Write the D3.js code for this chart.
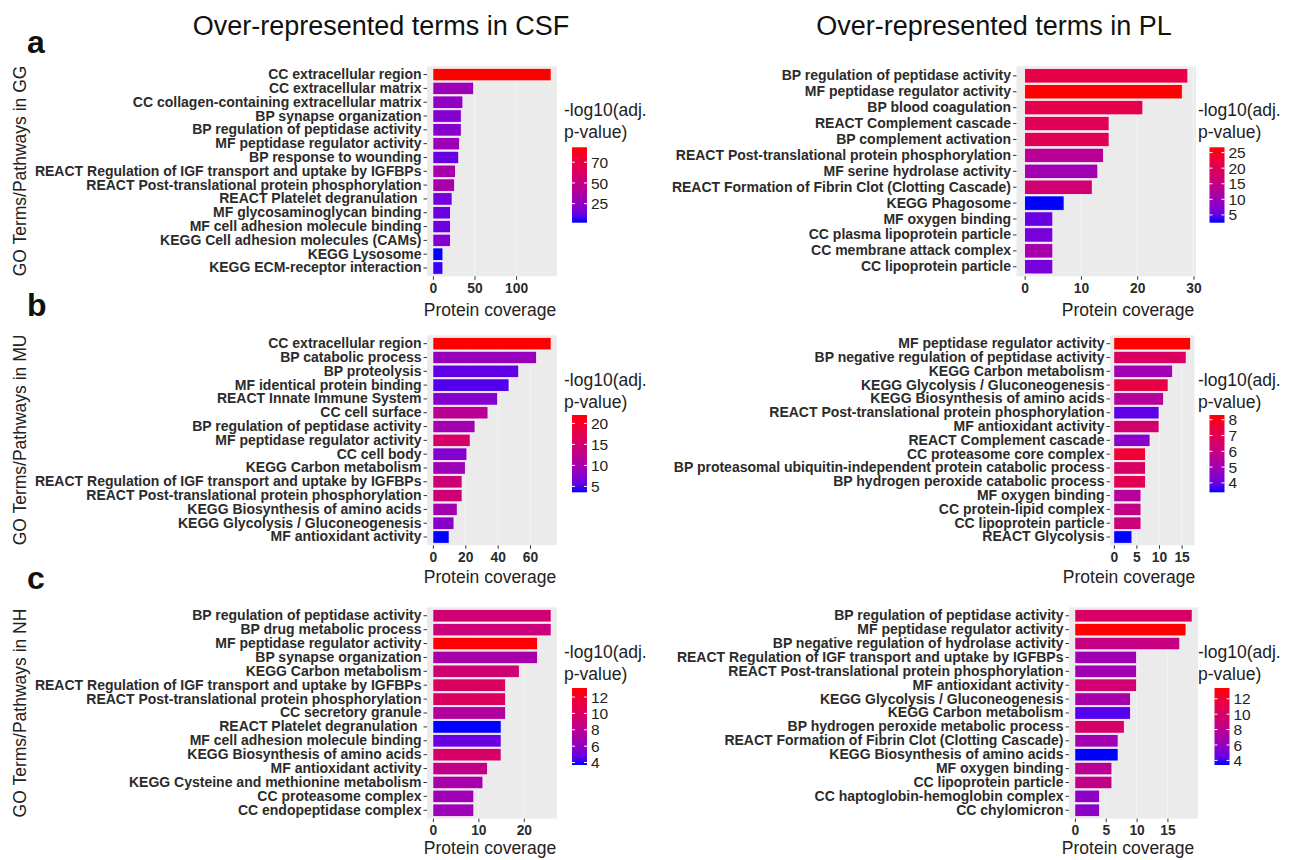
<!DOCTYPE html>
<html><head><meta charset="utf-8">
<script src="https://cdn.jsdelivr.net/npm/d3@7"></script>
<style>
body{margin:0;background:#fff;}
svg{display:block;font-family:"Liberation Sans",Arial,sans-serif;}
</style></head><body>
<svg id="chart" width="1295" height="860"></svg>
<script>
// ---------- DATA ----------
const columnTitles = ["Over-represented terms in CSF", "Over-represented terms in PL"];
const rowLetters = ["a", "b", "c"];
const rowAxisTitles = ["GO Terms/Pathways in GG", "GO Terms/Pathways in MU", "GO Terms/Pathways in NH"];
const xAxisTitle = "Protein coverage";
const legendTitleLines = ["-log10(adj.", "p-value)"];

// GG - CSF
const ggCsfTerms = ["CC extracellular region","CC extracellular matrix","CC collagen-containing extracellular matrix","BP synapse organization","BP regulation of peptidase activity","MF peptidase regulator activity","BP response to wounding","REACT Regulation of IGF transport and uptake by IGFBPs","REACT Post-translational protein phosphorylation","REACT Platelet degranulation ","MF glycosaminoglycan binding","MF cell adhesion molecule binding","KEGG Cell adhesion molecules (CAMs)","KEGG Lysosome","KEGG ECM-receptor interaction"];
const ggCsfCoverage = [142, 49, 36, 34, 34, 32, 31, 27, 26, 23, 21, 21, 21, 12, 12];
const ggCsfLogP = [93, 29, 25, 20, 21, 29, 13, 34, 34, 16, 14, 14, 20, 2, 5];
const ggCsfXTicks = [0, 50, 100];
const ggCsfLegendTicks = [25, 50, 75];
const ggCsfLegendLabels = ["25", "50", "70"];

// GG - PL
const ggPlTerms = ["BP regulation of peptidase activity","MF peptidase regulator activity","BP blood coagulation","REACT Complement cascade","BP complement activation","REACT Post-translational protein phosphorylation","MF serine hydrolase activity","REACT Formation of Fibrin Clot (Clotting Cascade)","KEGG Phagosome","MF oxygen binding","CC plasma lipoprotein particle","CC membrane attack complex","CC lipoprotein particle"];
const ggPlCoverage = [29, 28, 21, 15, 15, 14, 13, 12, 7, 5, 5, 5, 5];
const ggPlLogP = [21.4, 26.7, 21, 20, 20, 13.4, 10.2, 17, 2.5, 5.4, 6.4, 11, 6.4];
const ggPlXTicks = [0, 10, 20, 30];
const ggPlLegendTicks = [5, 10, 15, 20, 25];
const ggPlLegendLabels = ["5", "10", "15", "20", "25"];

// MU - CSF
const muCsfTerms = ["CC extracellular region","BP catabolic process","BP proteolysis","MF identical protein binding","REACT Innate Immune System","CC cell surface","BP regulation of peptidase activity","MF peptidase regulator activity","CC cell body","KEGG Carbon metabolism","REACT Regulation of IGF transport and uptake by IGFBPs","REACT Post-translational protein phosphorylation","KEGG Biosynthesis of amino acids","KEGG Glycolysis / Gluconeogenesis","MF antioxidant activity"];
const muCsfCoverage = [73, 64, 53, 47, 40, 34, 26, 23, 21, 20, 18, 18, 15, 13, 10];
const muCsfLogP = [22, 8.6, 5.4, 4.9, 7.3, 11.9, 9.7, 15.6, 7.3, 9.1, 14.3, 14.3, 9.7, 7.8, 3.6];
const muCsfXTicks = [0, 20, 40, 60];
const muCsfLegendTicks = [5, 10, 15, 20];
const muCsfLegendLabels = ["5", "10", "15", "20"];

// MU - PL
const muPlTerms = ["MF peptidase regulator activity","BP negative regulation of peptidase activity","KEGG Carbon metabolism","KEGG Glycolysis / Gluconeogenesis","KEGG Biosynthesis of amino acids","REACT Post-translational protein phosphorylation","MF antioxidant activity","REACT Complement cascade","CC proteasome core complex","BP proteasomal ubiquitin-independent protein catabolic process","BP hydrogen peroxide catabolic process","MF oxygen binding","CC protein-lipid complex","CC lipoprotein particle","REACT Glycolysis"];
const muPlCoverage = [17, 16, 13, 12, 11, 10, 10, 8, 7, 7, 7, 6, 6, 6, 4];
const muPlLogP = [8.3, 6.7, 5.0, 7.3, 5.5, 3.9, 6.4, 4.5, 7.6, 6.6, 7.0, 5.5, 5.9, 6.2, 3.4];
const muPlXTicks = [0, 5, 10, 15];
const muPlLegendTicks = [4, 5, 6, 7, 8];
const muPlLegendLabels = ["4", "5", "6", "7", "8"];

// NH - CSF
const nhCsfTerms = ["BP regulation of peptidase activity","BP drug metabolic process","MF peptidase regulator activity","BP synapse organization","KEGG Carbon metabolism","REACT Regulation of IGF transport and uptake by IGFBPs","REACT Post-translational protein phosphorylation","CC secretory granule","REACT Platelet degranulation ","MF cell adhesion molecule binding","KEGG Biosynthesis of amino acids","MF antioxidant activity","KEGG Cysteine and methionine metabolism","CC proteasome complex","CC endopeptidase complex"];
const nhCsfCoverage = [26, 26, 23, 23, 19, 16, 16, 16, 15, 15, 15, 12, 11, 9, 9];
const nhCsfLogP = [9.3, 9.0, 13.1, 7.0, 9.3, 10.1, 10.1, 7.5, 3.7, 4.8, 9.8, 8.4, 7.0, 6.6, 6.5];
const nhCsfXTicks = [0, 10, 20];
const nhCsfLegendTicks = [4, 6, 8, 10, 12];
const nhCsfLegendLabels = ["4", "6", "8", "10", "12"];

// NH - PL
const nhPlTerms = ["BP regulation of peptidase activity","MF peptidase regulator activity","BP negative regulation of hydrolase activity","REACT Regulation of IGF transport and uptake by IGFBPs","REACT Post-translational protein phosphorylation","MF antioxidant activity","KEGG Glycolysis / Gluconeogenesis","KEGG Carbon metabolism","BP hydrogen peroxide metabolic process","REACT Formation of Fibrin Clot (Clotting Cascade)","KEGG Biosynthesis of amino acids","MF oxygen binding","CC lipoprotein particle","CC haptoglobin-hemoglobin complex","CC chylomicron"];
const nhPlCoverage = [19, 18, 17, 10, 10, 10, 9, 9, 8, 7, 7, 6, 6, 4, 4];
const nhPlLogP = [10, 13.4, 8.7, 6.6, 6.6, 9.4, 6.9, 4.2, 9.8, 6.6, 3.4, 7.9, 8.4, 5.7, 5.7];
const nhPlXTicks = [0, 5, 10, 15];
const nhPlLegendTicks = [4, 6, 8, 10, 12];
const nhPlLegendLabels = ["4", "6", "8", "10", "12"];

// ---------- LAYOUT ----------
const rowsLayout = [
  {T: 66.3, B: 276.3, xTitleBase: 316, legT1: 116, legT2: 138, barY: 147.3, barH: 75.4, letterBase: 53, axisTitleCY: 171},
  {T: 335.4, B: 545.3, xTitleBase: 583, legT1: 386, legT2: 408, barY: 415, barH: 77.3, letterBase: 316, axisTitleCY: 440},
  {T: 607.4, B: 818.6, xTitleBase: 854, legT1: 658, legT2: 680, barY: 688, barH: 77, letterBase: 589, axisTitleCY: 713}
];
const colsLayout = [
  [{L: 427, R: 557, legX: 564, barX: 572, xTitleCX: 490}, {L: 427, R: 557, legX: 564, barX: 572, xTitleCX: 490}, {L: 427, R: 557, legX: 564, barX: 572, xTitleCX: 490}],
  [{L: 1016.5, R: 1196, legX: 1198, barX: 1209.5, xTitleCX: 1128}, {L: 1110, R: 1194.5, legX: 1198, barX: 1209.5, xTitleCX: 1129}, {L: 1069, R: 1198, legX: 1198, barX: 1214.5, xTitleCX: 1128}]
];

const panels = [
  {row: 0, col: 0, terms: ggCsfTerms, cov: ggCsfCoverage, logp: ggCsfLogP, xTicks: ggCsfXTicks, lt: ggCsfLegendTicks, ll: ggCsfLegendLabels},
  {row: 0, col: 1, terms: ggPlTerms, cov: ggPlCoverage, logp: ggPlLogP, xTicks: ggPlXTicks, lt: ggPlLegendTicks, ll: ggPlLegendLabels},
  {row: 1, col: 0, terms: muCsfTerms, cov: muCsfCoverage, logp: muCsfLogP, xTicks: muCsfXTicks, lt: muCsfLegendTicks, ll: muCsfLegendLabels},
  {row: 1, col: 1, terms: muPlTerms, cov: muPlCoverage, logp: muPlLogP, xTicks: muPlXTicks, lt: muPlLegendTicks, ll: muPlLegendLabels},
  {row: 2, col: 0, terms: nhCsfTerms, cov: nhCsfCoverage, logp: nhCsfLogP, xTicks: nhCsfXTicks, lt: nhCsfLegendTicks, ll: nhCsfLegendLabels},
  {row: 2, col: 1, terms: nhPlTerms, cov: nhPlCoverage, logp: nhPlLogP, xTicks: nhPlXTicks, lt: nhPlLegendTicks, ll: nhPlLegendLabels}
];

const svg = d3.select("#chart");
const defs = svg.append("defs");
const interp = d3.interpolateLab("blue", "red");
const TXT = "#2b2b2b";
const FONT = '"Liberation Sans", Arial, sans-serif';

// Column titles
const titleCX = [381, 994];
columnTitles.forEach((t, i) => {
  svg.append("text").attr("x", titleCX[i]).attr("y", 35)
    .attr("text-anchor", "middle").attr("font-size", "27px").attr("fill", "#111").text(t);
});

// Row letters and axis titles
rowsLayout.forEach((r, i) => {
  svg.append("text").attr("x", 27).attr("y", r.letterBase)
    .attr("font-size", "32px").attr("font-weight", "bold").attr("fill", "#111").text(rowLetters[i]);
  svg.append("text").attr("transform", `translate(26,${r.axisTitleCY}) rotate(-90)`)
    .attr("text-anchor", "middle").attr("font-size", "17.5px").attr("fill", "#222").text(rowAxisTitles[i]);
});

panels.forEach((p, pi) => {
  const r = rowsLayout[p.row];
  const c = colsLayout[p.col][p.row];
  const maxV = d3.max(p.cov);
  const x = d3.scaleLinear().domain([-0.05 * maxV, 1.05 * maxV]).range([c.L, c.R]);
  const y = d3.scaleBand().domain(p.terms).range([r.T, r.B]).paddingInner(0.1).paddingOuter(0.15);
  const ext = d3.extent(p.logp);
  const color = d3.scaleSequential(interp).domain(ext);

  const g = svg.append("g");
  g.append("rect").attr("x", c.L).attr("y", r.T).attr("width", c.R - c.L).attr("height", r.B - r.T).attr("fill", "#EBEBEB");
  g.selectAll(".grid").data(p.xTicks).join("line")
    .attr("x1", d => x(d)).attr("x2", d => x(d)).attr("y1", r.T).attr("y2", r.B)
    .attr("stroke", "#F4F4F4").attr("stroke-width", 1);
  g.selectAll(".bar").data(p.terms.map((t, i) => ({t, v: p.cov[i], c: p.logp[i]}))).join("rect")
    .attr("x", x(0)).attr("y", d => y(d.t)).attr("width", d => x(d.v) - x(0)).attr("height", y.bandwidth())
    .attr("fill", d => color(d.c)).attr("stroke", "#ffffff").attr("stroke-width", 0.7);

  const ya = svg.append("g").attr("transform", `translate(${c.L},0)`)
    .call(d3.axisLeft(y).tickSize(3.5).tickPadding(2));
  ya.select(".domain").remove();
  ya.selectAll(".tick line").attr("stroke", "#333");
  ya.selectAll(".tick text").attr("font-size", "14px").attr("font-weight", "bold").attr("fill", TXT)
    .attr("font-family", FONT).style("white-space", "pre");

  const xa = svg.append("g").attr("transform", `translate(0,${r.B})`)
    .call(d3.axisBottom(x).tickValues(p.xTicks).tickSize(3.5).tickPadding(3.5).tickFormat(d3.format("d")));
  xa.select(".domain").remove();
  xa.selectAll(".tick line").attr("stroke", "#333");
  xa.selectAll(".tick text").attr("font-size", "13.8px").attr("font-weight", "bold").attr("fill", TXT)
    .attr("font-family", FONT);

  svg.append("text").attr("x", c.xTitleCX).attr("y", r.xTitleBase).attr("text-anchor", "middle")
    .attr("font-size", "17.5px").attr("fill", "#222").text(xAxisTitle);

  legendTitleLines.forEach((t, i) => {
    svg.append("text").attr("x", c.legX).attr("y", i === 0 ? r.legT1 : r.legT2)
      .attr("font-size", "17.5px").attr("fill", "#222").text(t);
  });

  const gid = "grad" + pi;
  const grad = defs.append("linearGradient").attr("id", gid).attr("x1", 0).attr("y1", 1).attr("x2", 0).attr("y2", 0);
  d3.range(0, 11).forEach(i => {
    grad.append("stop").attr("offset", (i * 10) + "%").attr("stop-color", interp(i / 10));
  });
  const bw = 15;
  svg.append("rect").attr("x", c.barX).attr("y", r.barY).attr("width", bw).attr("height", r.barH)
    .attr("fill", `url(#${gid})`);
  const ly = d3.scaleLinear().domain(ext).range([r.barY + r.barH, r.barY]);
  const lg = svg.append("g");
  p.lt.forEach((v, i) => {
    const yy = ly(v);
    lg.append("line").attr("x1", c.barX).attr("x2", c.barX + 3).attr("y1", yy).attr("y2", yy).attr("stroke", "#fff").attr("stroke-width", 1);
    lg.append("line").attr("x1", c.barX + bw - 3).attr("x2", c.barX + bw).attr("y1", yy).attr("y2", yy).attr("stroke", "#fff").attr("stroke-width", 1);
    lg.append("text").attr("x", c.barX + bw + 4).attr("y", yy).attr("dy", "0.36em")
      .attr("font-size", "15.5px").attr("fill", "#222").text(p.ll[i]);
  });
});
</script>
</body></html>
